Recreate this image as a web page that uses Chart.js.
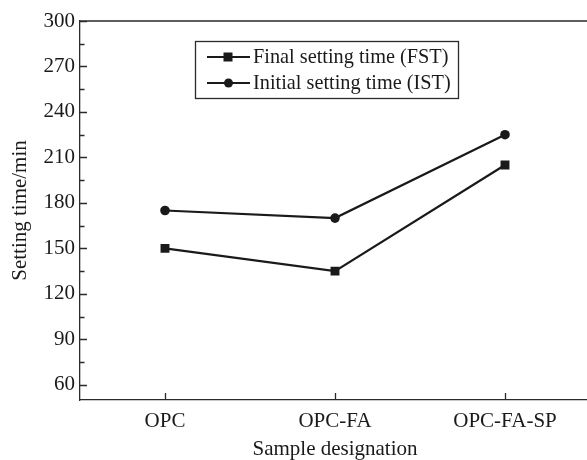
<!DOCTYPE html>
<html>
<head>
<meta charset="utf-8">
<script src="https://cdn.jsdelivr.net/npm/chart.js@4.4.1/dist/chart.umd.min.js"></script>
<style>
  html, body { margin: 0; padding: 0; background: #fff; overflow: hidden; }
  #wrap { width: 600px; height: 460px; position: relative; }
</style>
</head>
<body>
<div id="wrap"><canvas id="c" width="600" height="460"></canvas></div>
<script>
// Setting times of the three mixes (minutes)
const categories = ['OPC', 'OPC-FA', 'OPC-FA-SP'];
const finalSetting = [150, 135, 205];
const initialSetting = [175, 170, 225];
const yTicks = [60, 90, 120, 150, 180, 210, 240, 270, 300];
const yMinorTicks = [75, 105, 135, 165, 195, 225, 255, 285];

const INK = '#1a1a1a';
const AXIS = '#2a2a2a';
const FONT = '"Liberation Serif", "Times New Roman", serif';

// Inward tick marks, the top frame line and an in-plot legend
const framePlugin = {
  id: 'frame',
  afterDraw(chart) {
    const ctx = chart.ctx;
    const area = chart.chartArea;
    const ys = chart.scales.y;
    const xs = chart.scales.x;
    ctx.save();
    ctx.strokeStyle = AXIS;
    ctx.lineWidth = 1.3;
    ctx.beginPath();
    ctx.moveTo(area.left, area.top);
    ctx.lineTo(area.right + 5, area.top);
    yTicks.forEach(v => {
      const p = Math.round(ys.getPixelForValue(v)) + 0.5;
      ctx.moveTo(area.left, p);
      ctx.lineTo(area.left + 7, p);
    });
    yMinorTicks.forEach(v => {
      const p = Math.round(ys.getPixelForValue(v)) + 0.5;
      ctx.moveTo(area.left, p);
      ctx.lineTo(area.left + 4.5, p);
    });
    categories.forEach((c, i) => {
      const p = Math.round(xs.getPixelForValue(i)) + 0.5;
      ctx.moveTo(p, area.bottom);
      ctx.lineTo(p, area.bottom - 7);
    });
    ctx.stroke();

    // legend box
    const bx = 195.5, by = 41.5, bw = 263, bh = 57;
    ctx.lineWidth = 1.3;
    ctx.strokeRect(bx, by, bw, bh);
    ctx.font = '20.3px ' + FONT;
    ctx.textBaseline = 'middle';
    ctx.fillStyle = INK;
    chart.data.datasets.forEach((ds, i) => {
      const y = 57 + i * 26;
      ctx.strokeStyle = INK;
      ctx.lineWidth = 2.2;
      ctx.beginPath();
      ctx.moveTo(207, y);
      ctx.lineTo(250, y);
      ctx.stroke();
      ctx.beginPath();
      if (ds.pointStyle === 'rect') {
        ctx.fillRect(228 - 4.5, y - 4.5, 9, 9);
      } else {
        ctx.arc(228.5, y, 4.5, 0, Math.PI * 2);
        ctx.fill();
      }
      ctx.fillText(ds.label, 253, y + 1);
    });
    ctx.restore();
  }
};

new Chart(document.getElementById('c'), {
  type: 'line',
  data: {
    labels: categories,
    datasets: [
      {
        label: 'Final setting time (FST)',
        data: finalSetting,
        borderColor: INK,
        backgroundColor: INK,
        borderWidth: 2.2,
        pointStyle: 'rect',
        pointRadius: 6.3,
        pointBorderWidth: 0,
        tension: 0
      },
      {
        label: 'Initial setting time (IST)',
        data: initialSetting,
        borderColor: INK,
        backgroundColor: INK,
        borderWidth: 2.2,
        pointStyle: 'circle',
        pointRadius: 4.8,
        pointBorderWidth: 0,
        tension: 0
      }
    ]
  },
  options: {
    responsive: false,
    animation: false,
    layout: { padding: { top: 21, right: 10, left: 0, bottom: 0 } },
    plugins: { legend: { display: false }, tooltip: { enabled: false } },
    scales: {
      x: {
        offset: true,
        grid: { display: false, drawTicks: false },
        border: { display: true, color: AXIS, width: 1.3 },
        ticks: { color: INK, font: { family: FONT, size: 21 }, padding: 9 },
        title: {
          display: true, text: 'Sample designation', color: INK,
          font: { family: FONT, size: 21, lineHeight: 1 }, padding: 0
        },
        afterFit(s) { s.height = 60; }
      },
      y: {
        min: 50, max: 300,
        afterBuildTicks(s) { s.ticks = yTicks.map(v => ({ value: v })); },
        grid: { display: false, drawTicks: false },
        border: { display: true, color: AXIS, width: 1.3 },
        ticks: { color: INK, font: { family: FONT, size: 21 }, padding: 5 },
        title: {
          display: true, text: 'Setting time/min', color: INK,
          font: { family: FONT, size: 21, lineHeight: 1 }, padding: { top: 10 }
        },
        afterFit(s) { s.width = 80; }
      }
    }
  },
  plugins: [framePlugin]
});
</script>
</body>
</html>
